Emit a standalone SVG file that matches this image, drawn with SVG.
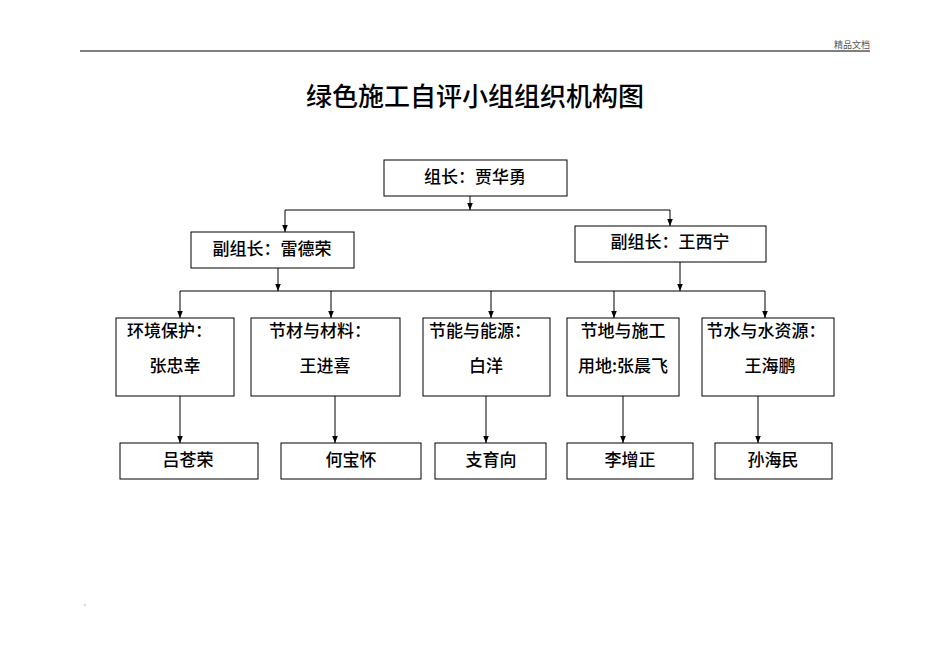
<svg xmlns="http://www.w3.org/2000/svg" width="950" height="672" viewBox="0 0 950 672">
<defs><marker id="a" viewBox="0 0 10 10" refX="10" refY="5" markerWidth="7" markerHeight="7" orient="auto"><path d="M0,1 L10,5 L0,9 z" fill="#000"/></marker></defs>
<style>
.b{fill:#fff;stroke:#000;stroke-width:1}
.t{font-family:"Noto Sans CJK SC",sans-serif;font-size:17px;font-weight:500;fill:#000}
.c{stroke:#000;stroke-width:1;fill:none}
.ar{marker-end:url(#a)}
</style>
<rect width="950" height="672" fill="#fff"/>
<line x1="80" y1="51" x2="870" y2="51" stroke="#000"/>
<text x="870" y="48" text-anchor="end" style="font-family:'Noto Sans CJK SC',sans-serif;font-size:9px;fill:#555">精品文档</text>
<text x="475" y="106" text-anchor="middle" style="font-family:'Noto Sans CJK SC',sans-serif;font-size:26px;font-weight:500">绿色施工自评小组组织机构图</text>
<circle cx="85" cy="605" r="0.6" fill="#555"/>
<g id="connectors">
<path class="c ar" d="M470,196 V210"/>
<path class="c" d="M285,210 H670"/>
<path class="c ar" d="M285,210 V232"/>
<path class="c ar" d="M670,210 V226"/>
<path class="c ar" d="M278,268 V291"/>
<path class="c ar" d="M680,262 V291"/>
<path class="c" d="M180,291 H765"/>
<path class="c ar" d="M180,291 V318"/>
<path class="c ar" d="M331,291 V318"/>
<path class="c ar" d="M491,291 V318"/>
<path class="c ar" d="M614,291 V318"/>
<path class="c ar" d="M765,291 V318"/>
<path class="c ar" d="M180,396 V443"/>
<path class="c ar" d="M335,396 V443"/>
<path class="c ar" d="M486,396 V443"/>
<path class="c ar" d="M623,396 V443"/>
<path class="c ar" d="M758,396 V443"/>
</g>
<g id="leader"><rect class="b" x="384" y="160" width="183" height="36"/><text class="t" x="475" y="183" text-anchor="middle">组长：贾华勇</text></g>
<g id="dep1"><rect class="b" x="191" y="232" width="163" height="36"/><text class="t" x="272" y="255" text-anchor="middle">副组长：雷德荣</text></g>
<g id="dep2"><rect class="b" x="575" y="226" width="191" height="36"/><text class="t" x="670" y="248" text-anchor="middle">副组长：王西宁</text></g>
<g id="g1"><rect class="b" x="116" y="318" width="118" height="78"/><text class="t" x="127" y="337">环境保护：</text><text class="t" x="175" y="372" text-anchor="middle">张忠幸</text></g>
<g id="g2"><rect class="b" x="251" y="318" width="149" height="78"/><text class="t" x="320" y="337" text-anchor="middle">节材与材料：</text><text class="t" x="325" y="372" text-anchor="middle">王进喜</text></g>
<g id="g3"><rect class="b" x="423" y="318" width="127" height="78"/><text class="t" x="480" y="337" text-anchor="middle">节能与能源：</text><text class="t" x="486" y="372" text-anchor="middle">白洋</text></g>
<g id="g4"><rect class="b" x="567" y="318" width="112" height="78"/><text class="t" x="623" y="337" text-anchor="middle">节地与施工</text><text class="t" x="623" y="372" text-anchor="middle">用地:张晨飞</text></g>
<g id="g5"><rect class="b" x="702" y="318" width="132" height="78"/><text class="t" x="766" y="337" text-anchor="middle">节水与水资源：</text><text class="t" x="770" y="372" text-anchor="middle">王海鹏</text></g>
<g id="m1"><rect class="b" x="120" y="443" width="138" height="36"/><text class="t" x="188" y="466" text-anchor="middle">吕苍荣</text></g>
<g id="m2"><rect class="b" x="281" y="443" width="140" height="36"/><text class="t" x="351" y="466" text-anchor="middle">何宝怀</text></g>
<g id="m3"><rect class="b" x="435" y="443" width="111" height="36"/><text class="t" x="491" y="466" text-anchor="middle">支育向</text></g>
<g id="m4"><rect class="b" x="567" y="443" width="126" height="36"/><text class="t" x="630" y="466" text-anchor="middle">李增正</text></g>
<g id="m5"><rect class="b" x="715" y="443" width="117" height="36"/><text class="t" x="773" y="466" text-anchor="middle">孙海民</text></g>
</svg>
